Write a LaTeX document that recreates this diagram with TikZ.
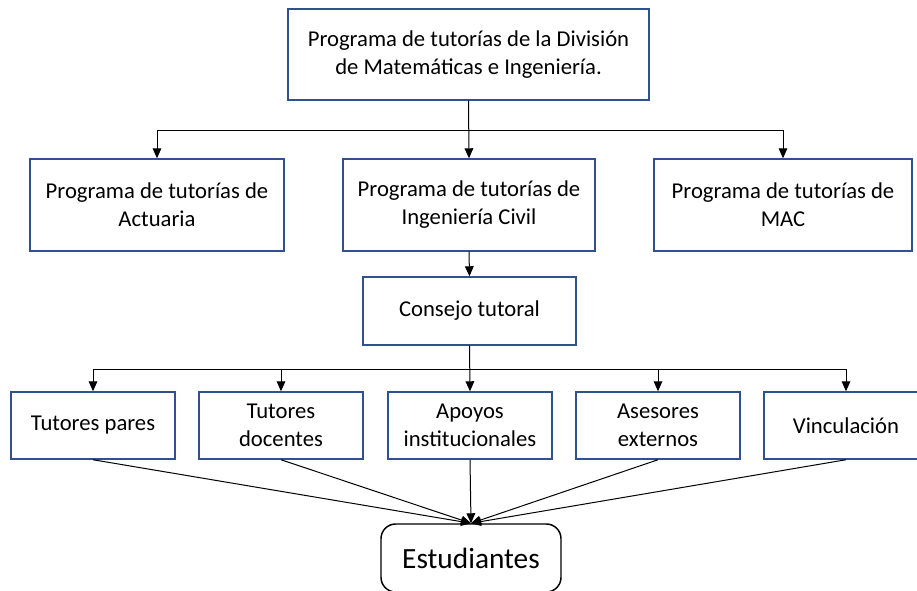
\documentclass[tikz,border=0pt]{standalone}
\usepackage{fontspec}
\setmainfont{Carlito}
\usepackage{xcolor}
\usepackage{tikz}
\usetikzlibrary{shapes.geometric, arrows, arrows.meta}
\definecolor{wordblue}{RGB}{47,82,143}
\tikzset{
every picture/.style={line width=0.75pt, >={Triangle[length=7.5pt,width=6.5pt]}},
%%%%%%%%%%  Node styles
block/.style={rectangle, draw=wordblue, line width=1.1pt, fill=white,
              text centered, align=center, inner sep=2pt,
              font=\fontsize{17}{21}\selectfont},
big_block/.style={block, minimum width=190.5pt, minimum height=69pt},
small_block/.style={block, minimum width=123pt, minimum height=50.25pt},
students/.style={rectangle, rounded corners=11pt, draw=black, line width=1.1pt,
                 fill=white, align=center, minimum width=135pt, minimum height=51pt,
                 font=\fontsize{22}{26}\selectfont},
%%%%%%% connectors
link/.style={->, black, line width=0.75pt}
}

\begin{document}
\begin{tikzpicture}[x=0.75pt,y=-0.75pt]
\clip (0,0) rectangle (917,590);
\fill[white] (0,0) rectangle (917,590);
%%top box
\node[block, minimum width=270.75pt, minimum height=68.25pt] (div) at (468.5,54.5)
	{Programa de tutorías de la División\\de Matemáticas e Ingeniería.};
%%programs
\node[big_block] (act) at (157,205) {Programa de tutorías de\\Actuaria};
\node[big_block, minimum width=189pt] (civil) at (469,205) {Programa de tutorías de\\Ingeniería Civil};
\node[big_block, minimum width=193.5pt] (mac) at (783,205) {Programa de tutorías de\\MAC};
%%council
\node[block, minimum width=159.75pt, minimum height=51pt] (consejo) at (469.5,311) {Consejo tutoral};
%%supports
\node[small_block] (pares) at (93,425.5) {Tutores pares};
\node[small_block] (docentes) at (281,425.5) {Tutores\\docentes};
\node[small_block] (apoyos) at (470,425.5) {Apoyos\\institucionales};
\node[small_block] (asesores) at (658,425.5) {Asesores\\externos};
\node[small_block] (vinc) at (846,425.5) {Vinculación};
%%students
\node[students] (est) at (471,558) {Estudiantes};
%%%%%%%%%%%%%%%%%%%%%%%
%%first branching
\coordinate (bus1) at (469,130);
\draw[link] (div.south) -- (civil.north);
\draw[link] (bus1) -| (act.north);
\draw[link] (bus1) -| (mac.north);
\draw[link] (civil.south) -- (consejo.north);
%%second branching
\coordinate (bus2) at (470,369);
\draw[link] (consejo.south) -- (apoyos.north);
\draw[link] (bus2) -| (pares.north);
\draw[link] (bus2) -| (docentes.north);
\draw[link] (bus2) -| (asesores.north);
\draw[link] (bus2) -| (vinc.north);
%%into students
\draw[link] (pares.south) -- (est.north);
\draw[link] (docentes.south) -- (est.north);
\draw[link] (apoyos.south) -- (est.north);
\draw[link] (asesores.south) -- (est.north);
\draw[link] (vinc.south) -- (est.north);
\end{tikzpicture}
\end{document}
